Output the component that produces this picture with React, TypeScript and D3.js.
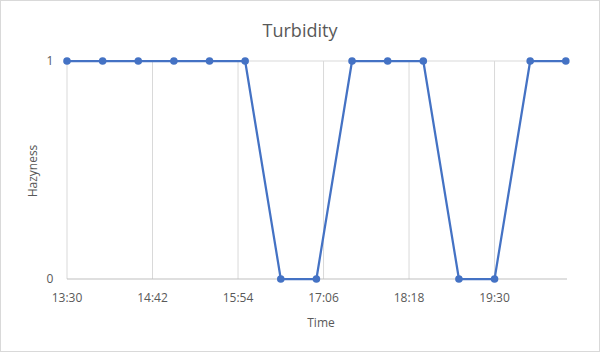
import React from "react";
import * as d3 from "d3";

const times: string[] = ["13:30","14:00","14:30","15:00","15:30","16:00","16:30","17:00","17:30","18:00","18:30","19:00","19:30","20:00","20:30"];
const values: number[] = [1,1,1,1,1,1,0,0,1,1,1,0,0,1,1];
const tickLabels: string[] = ["13:30","14:42","15:54","17:06","18:18","19:30"];
const yTicks: number[] = [0, 1];

const W = 600, H = 352;
const toMin = (s: string) => { const [h, m] = s.split(":").map(Number); return h * 60 + m; };

export default function App() {
  const x = d3.scaleLinear().domain([toMin("13:30"), toMin("20:30") + 1]).range([67, 567]);
  const y = d3.scaleLinear().domain([0, 1]).range([279, 61]);
  const pts = times.map((t, i) => ({ x: x(toMin(t)), y: y(values[i]) }));
  const line = d3.line<{ x: number; y: number }>().x(d => d.x).y(d => d.y);
  const font = "'Open Sans', 'Liberation Sans', sans-serif";
  const grid = "#d9d9d9";
  const text = "#595959";
  return (
    <svg width={W} height={H} style={{ position: "absolute", left: 0, top: 0 }} fontFamily={font}>
      <rect x={0.5} y={0.5} width={W - 1} height={H - 1} fill="#fff" stroke="#d9d9d9" />
      <text x={300} y={37} textAnchor="middle" fontSize={18} fill={text}>Turbidity</text>
      {tickLabels.map(t => (
        <line key={"v" + t} x1={x(toMin(t))} x2={x(toMin(t))} y1={61} y2={279} stroke={grid} strokeWidth={1} />
      ))}
      {yTicks.map(v => (
        <line key={"h" + v} x1={67} x2={567} y1={y(v)} y2={y(v)} stroke={v === 0 ? "#bfbfbf" : grid} strokeWidth={1} />
      ))}
      {yTicks.map(v => (
        <text key={"yl" + v} x={50} y={y(v) + 4} textAnchor="middle" fontSize={12} fill={text}>{v}</text>
      ))}
      {tickLabels.map(t => (
        <text key={"xl" + t} x={x(toMin(t))} y={302} textAnchor="middle" fontSize={12} fill={text}>{t}</text>
      ))}
      <text x={321} y={327} textAnchor="middle" fontSize={12} fill={text}>Time</text>
      <text transform="translate(37,171) rotate(-90)" textAnchor="middle" fontSize={12} fill={text}>Hazyness</text>
      <path d={line(pts) || ""} fill="none" stroke="#4472C4" strokeWidth={2.25} strokeLinejoin="round" />
      {pts.map((p, i) => (
        <circle key={i} cx={p.x} cy={p.y} r={3.8} fill="#4472C4" />
      ))}
    </svg>
  );
}
